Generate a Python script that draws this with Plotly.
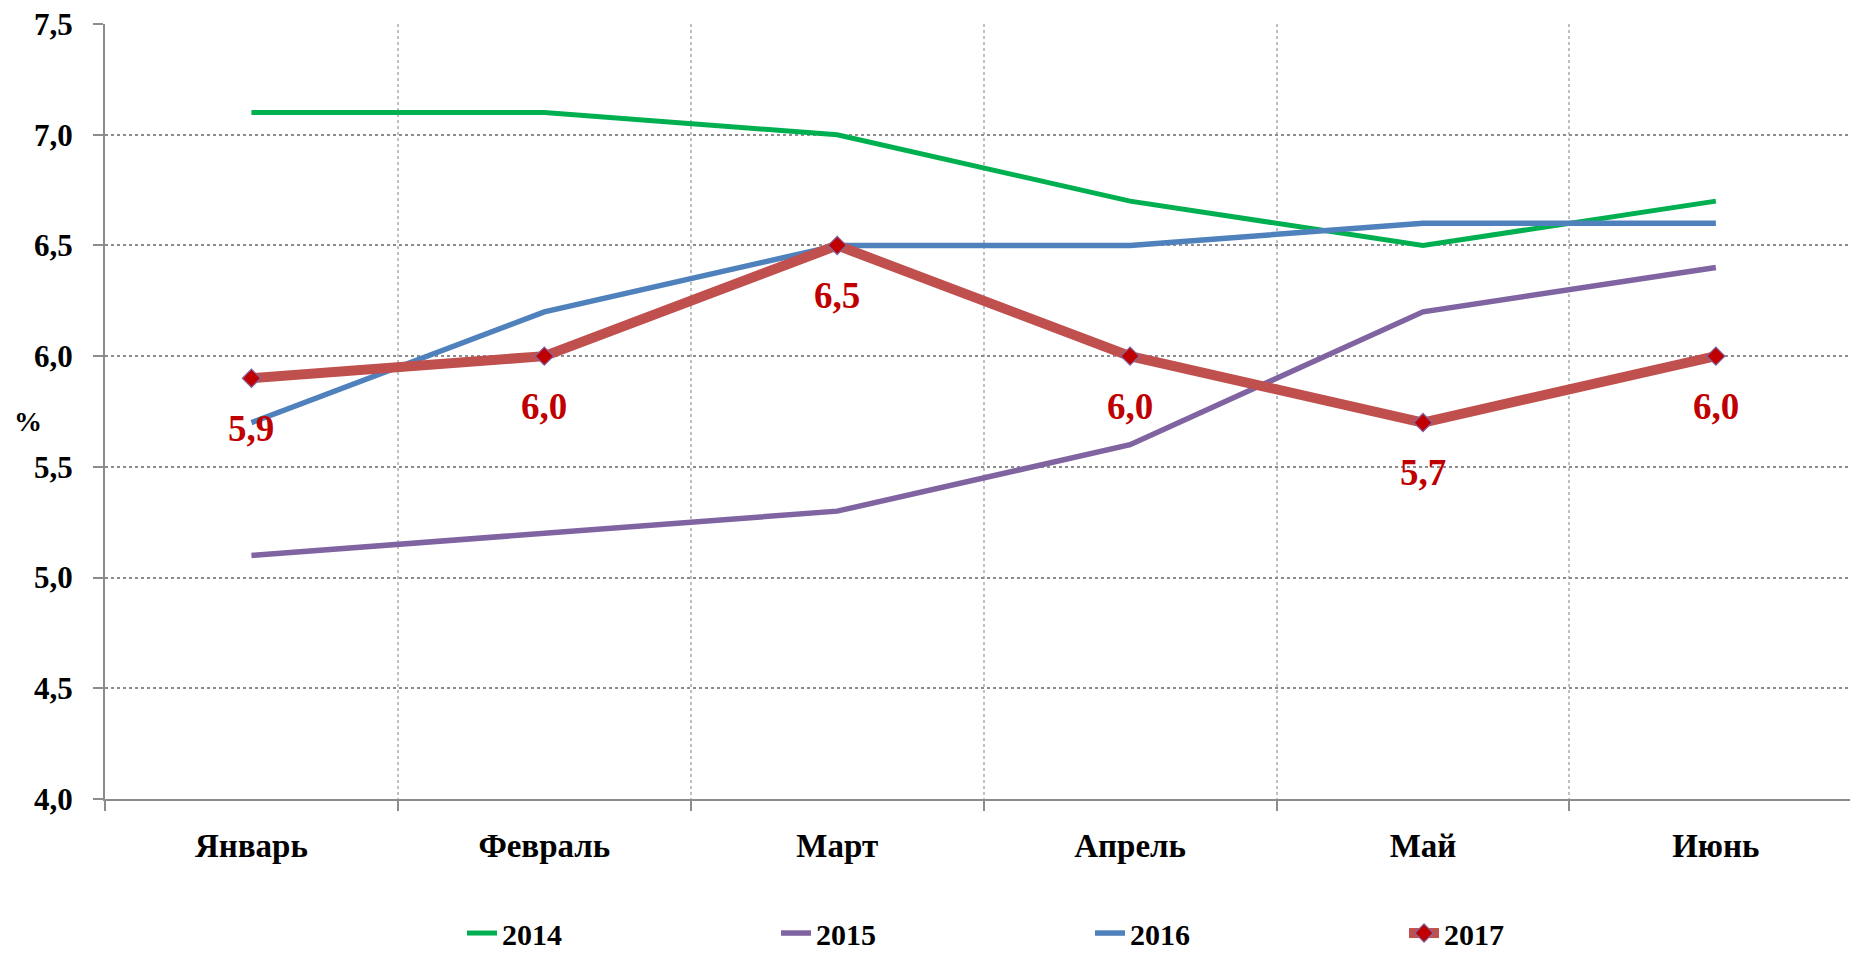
import plotly.graph_objects as go

months = ["Январь", "Февраль", "Март", "Апрель", "Май", "Июнь"]
years = ["2014", "2015", "2016", "2017"]
v2014 = [7.1, 7.1, 7.0, 6.7, 6.5, 6.7]
v2015 = [5.1, 5.2, 5.3, 5.6, 6.2, 6.4]
v2016 = [5.7, 6.2, 6.5, 6.5, 6.6, 6.6]
v2017 = [5.9, 6.0, 6.5, 6.0, 5.7, 6.0]
y_ticks = [4.0, 4.5, 5.0, 5.5, 6.0, 6.5, 7.0, 7.5]

SERIF = "Palatino Linotype, Book Antiqua, Liberation Serif, serif"
xpos = list(range(len(months)))

fig = go.Figure()
fig.add_trace(go.Scatter(x=xpos, y=v2014, name=years[0], mode="lines",
                         line=dict(color="#00B050", width=5)))
fig.add_trace(go.Scatter(x=xpos, y=v2015, name=years[1], mode="lines",
                         line=dict(color="#8064A2", width=5.5)))
fig.add_trace(go.Scatter(x=xpos, y=v2016, name=years[2], mode="lines",
                         line=dict(color="#4F81BD", width=5.5)))
fig.add_trace(go.Scatter(x=xpos, y=v2017, name=years[3], mode="lines+markers",
                         line=dict(color="#C0504D", width=10),
                         marker=dict(symbol="diamond", size=14, color="#C00000",
                                     line=dict(color="#8064A2", width=1.2))))

# value labels under the 2017 series
for i, v in enumerate(v2017):
    fig.add_annotation(x=i, y=v, text=f"{v:.1f}".replace(".", ","),
                       showarrow=False, yshift=-50,
                       font=dict(family=SERIF, size=37, color="#C00000", weight="bold"))

fig.add_annotation(xref="paper", yref="paper", x=-0.044, y=0.487, text="%",
                   xanchor="center", yanchor="middle", showarrow=False,
                   font=dict(family=SERIF, size=28, color="black", weight="bold"))

fig.update_layout(
    width=1850, height=955,
    margin=dict(l=105, r=0, t=24, b=156, autoexpand=False),
    plot_bgcolor="white", paper_bgcolor="white",
    separators=", ",
    showlegend=True,
    legend=dict(orientation="h", x=0.2046, xanchor="left",
                yref="container", y=0.023, yanchor="middle",
                entrywidth=269, entrywidthmode="pixels",
                font=dict(family=SERIF, size=30, color="black", weight="bold")),
    xaxis=dict(
        range=[-0.5, 5.458],
        tickmode="array", tickvals=xpos, ticktext=months,
        ticks="", showgrid=False, zeroline=False,
        showline=True, linecolor="#8C8C8C", linewidth=2,
        ticklabelstandoff=16,
        tickfont=dict(family=SERIF, size=33, color="black", weight="bold"),
        minor=dict(tickmode="array", tickvals=[-0.5, 0.5, 1.5, 2.5, 3.5, 4.5, 5.5],
                   ticks="outside", ticklen=10, tickwidth=2, tickcolor="#8C8C8C",
                   showgrid=True, gridcolor="#BFBFBF", griddash="dot", gridwidth=1.5),
    ),
    yaxis=dict(
        range=[4.0, 7.5],
        tickmode="array", tickvals=y_ticks, tickformat=".1f",
        ticks="outside", ticklen=10, tickwidth=2, tickcolor="#8C8C8C",
        showgrid=True, gridcolor="#8C8C8C", griddash="dot", gridwidth=1.5,
        zeroline=False, showline=True, linecolor="#8C8C8C", linewidth=2,
        ticklabelstandoff=14,
        tickfont=dict(family=SERIF, size=31, color="black", weight="bold"),
    ),
)

fig.write_html("out.html")
